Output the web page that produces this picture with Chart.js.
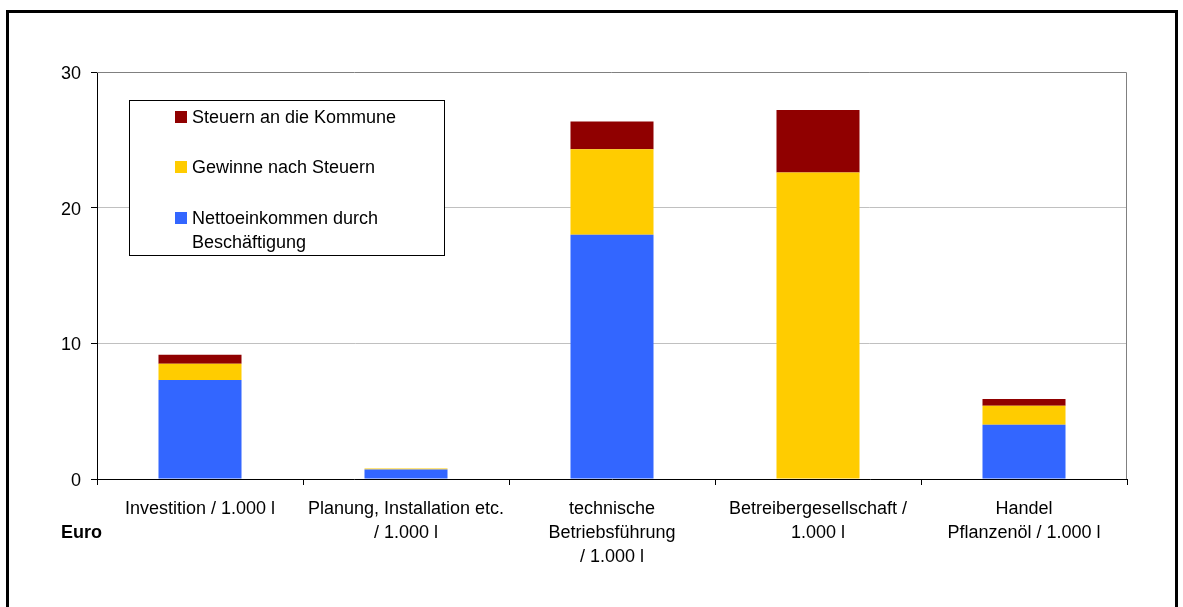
<!DOCTYPE html>
<html>
<head>
<meta charset="utf-8">
<script src="https://cdn.jsdelivr.net/npm/chart.js@4/dist/chart.umd.min.js"></script>
<style>
  html, body { margin: 0; padding: 0; background: #fff; }
  #wrap { width: 1183px; height: 607px; position: relative; }
</style>
</head>
<body>
<div id="wrap"><canvas id="chart" width="1183" height="607"></canvas></div>
<script>
"use strict";

// Kategorien (mehrzeilige Achsenbeschriftung)
const categories = [
    ['Investition / 1.000 l'],
    ['Planung, Installation etc.', '/ 1.000 l'],
    ['technische', 'Betriebsführung', '/ 1.000 l'],
    ['Betreibergesellschaft /', '1.000 l'],
    ['Handel', 'Pflanzenöl / 1.000 l']
];

// Werte in Euro
const nettoeinkommen = [7.3, 0.7, 18.0, 0, 4.0];
const gewinne = [1.2, 0.07, 6.3, 22.6, 1.4];
const steuern = [0.65, 0, 2.05, 4.6, 0.5];

const seriesNames = ['Nettoeinkommen durch\nBeschäftigung', 'Gewinne nach Steuern', 'Steuern an die Kommune'];
const seriesColors = ['#3366ff', '#ffcc00', '#900000'];
const yTicks = [0, 10, 20, 30];
const unitLabel = 'Euro';

const FONT = '"Liberation Sans", Arial, sans-serif';
Chart.defaults.font.family = FONT;
Chart.defaults.font.size = 18;
Chart.defaults.color = '#000';

// Rahmen, Plotrand, Legende, "Euro"
const extras = {
    id: 'extras',
    beforeDatasetsDraw(chart) {
        const ctx = chart.ctx, a = chart.chartArea;
        ctx.save();
        ctx.strokeStyle = '#808080';
        ctx.lineWidth = 1;
        ctx.beginPath();
        ctx.moveTo(a.left, a.top + 0.5);
        ctx.lineTo(a.right - 0.5, a.top + 0.5);
        ctx.lineTo(a.right - 0.5, a.bottom);
        ctx.stroke();
        ctx.restore();
    },
    afterDraw(chart) {
        const ctx = chart.ctx, a = chart.chartArea;
        ctx.save();

        // Legende
        const bx = a.left + 32, by = a.top + 28, bw = 315, bh = 155;
        ctx.fillStyle = '#fff';
        ctx.fillRect(bx, by, bw, bh);
        ctx.strokeStyle = '#000';
        ctx.lineWidth = 1;
        ctx.strokeRect(bx + 0.5, by + 0.5, bw, bh);

        ctx.font = '18px ' + FONT;
        ctx.textBaseline = 'middle';
        ctx.textAlign = 'left';
        const rowY = [16, 66, 117];
        chart.data.datasets.slice().reverse().forEach((ds, i) => {
            const cy = by + rowY[i];
            ctx.fillStyle = ds.backgroundColor;
            ctx.fillRect(bx + 46, cy - 5, 12, 12);
            ctx.fillStyle = '#000';
            ds.label.split('\n').forEach((line, j) => {
                ctx.fillText(line, bx + 63, cy + 2 + j * 24);
            });
        });

        // Einheit
        ctx.font = 'bold 18px ' + FONT;
        ctx.fillText(unitLabel, 61, a.bottom + 54);

        // Außenrahmen
        ctx.strokeStyle = '#000';
        ctx.lineWidth = 3;
        ctx.strokeRect(7.5, 11.5, 1169, 620);
        ctx.restore();
    }
};

const values = [nettoeinkommen, gewinne, steuern];

new Chart(document.getElementById('chart'), {
    type: 'bar',
    data: {
        labels: categories,
        datasets: values.map((v, i) => ({
            label: seriesNames[i],
            data: v,
            backgroundColor: seriesColors[i],
            borderWidth: 0,
            barPercentage: 0.403,
            categoryPercentage: 1
        }))
    },
    options: {
        responsive: false,
        animation: false,
        layout: { padding: { top: 72, right: 56, left: 0, bottom: 0 } },
        plugins: {
            legend: { display: false },
            tooltip: { enabled: false }
        },
        scales: {
            x: {
                stacked: true,
                border: { color: '#000', width: 1 },
                grid: { drawOnChartArea: false, tickLength: 6, tickColor: '#000', offset: true },
                ticks: { autoSkip: false, maxRotation: 0, padding: 12, font: { size: 18, lineHeight: 1.333 } },
                afterFit(scale) { scale.height = 128; }
            },
            y: {
                stacked: true,
                min: 0,
                max: 30,
                border: { color: '#000', width: 1 },
                grid: {
                    tickLength: 6,
                    tickColor: '#000',
                    color: ctx => (ctx.tick && (ctx.tick.value === 10 || ctx.tick.value === 20)) ? '#c0c0c0' : 'rgba(0,0,0,0)'
                },
                afterBuildTicks(scale) { scale.ticks = yTicks.map(v => ({ value: v })); },
                ticks: { padding: 10, labelOffset: 2, font: { size: 18 } },
                afterFit(scale) { scale.width = 97; }
            }
        }
    },
    plugins: [extras]
});
</script>
</body>
</html>
